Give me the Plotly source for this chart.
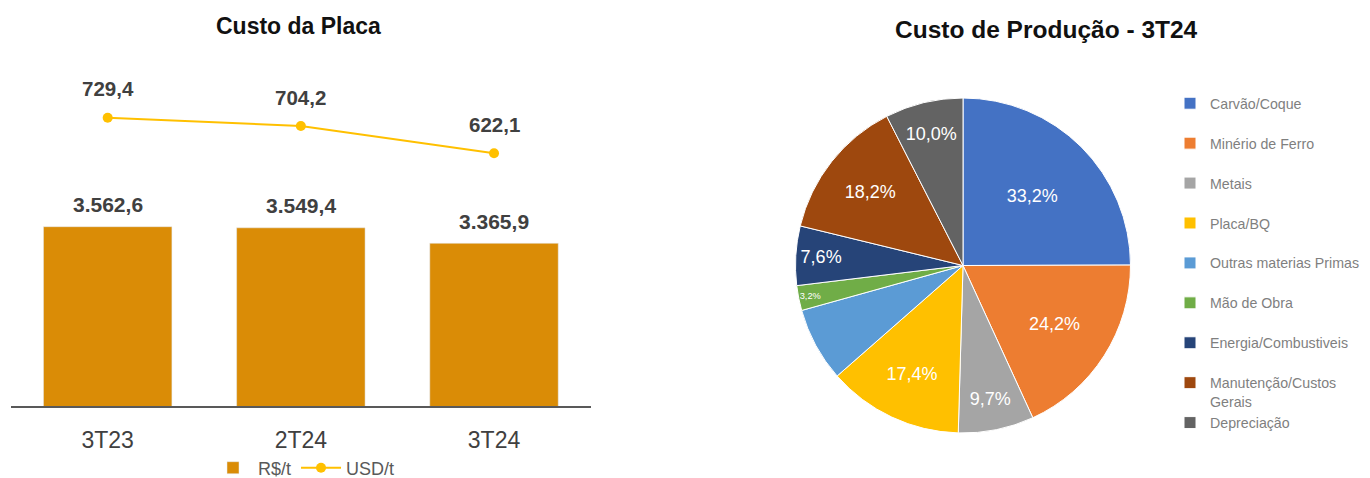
import plotly.graph_objects as go

# ---------------- data ----------------
periods = ["3T23", "2T24", "3T24"]
cost_brl = [3562.6, 3549.4, 3365.9]   # R$/t (bars)
cost_usd = [729.4, 704.2, 622.1]      # USD/t (line)

pie_categories = [
    "Carvão/Coque",
    "Minério de Ferro",
    "Metais",
    "Placa/BQ",
    "Outras materias Primas",
    "Mão de Obra",
    "Energia/Combustiveis",
    "Manutenção/Custos<br>Gerais",
    "Depreciação",
]
pie_values = [33.2, 24.2, 9.7, 17.4, 9.5, 3.2, 7.6, 18.2, 10.0]
pie_label_visible = [True, True, True, True, False, True, True, True, True]

# ---------------- styles / geometry ----------------
FONT = "Liberation Sans, Arial, sans-serif"
BAR_COLOR = "#DA8C06"
LINE_COLOR = "#FFC000"
LABEL_COLOR = "#404040"
pie_colors = ["#4472C4", "#ED7D31", "#A5A5A5", "#FFC000", "#5B9BD5",
              "#70AD47", "#264478", "#9E480E", "#636363"]

OFF = 8            # default page body margin
W, H = 1370 - OFF, 478 - OFF


def px_x(px):
    return (px - OFF) / W


def px_y(py):
    return 1 - (py - OFF) / H


def fmt_br(v, d=1):
    s = f"{v:,.{d}f}"
    return s.replace(",", "X").replace(".", ",").replace("X", ".")


def legend_label(cat):
    return cat if "<br>" in cat else cat + "<br> "


pie_text = [fmt_br(v) + "%" if show else "" for v, show in zip(pie_values, pie_label_visible)]

fig = go.Figure()

fig.add_trace(go.Bar(
    x=periods, y=cost_brl, name="R$/t", marker_color=BAR_COLOR,
    width=0.665, xaxis="x", yaxis="y", legend="legend",
    hovertemplate="%{x}: %{y}<extra>R$/t</extra>",
))
fig.add_trace(go.Scatter(
    x=periods, y=cost_usd, name="USD/t", mode="lines+markers",
    line=dict(color=LINE_COLOR, width=2),
    marker=dict(size=10, color=LINE_COLOR),
    xaxis="x", yaxis="y2", legend="legend",
))
fig.add_trace(go.Pie(
    labels=[legend_label(c) for c in pie_categories],
    values=pie_values,
    text=pie_text,
    textinfo="text",
    sort=False,
    direction="clockwise",
    rotation=0,
    marker=dict(colors=pie_colors, line=dict(color="white", width=1)),
    textposition="inside",
    insidetextorientation="horizontal",
    textfont=dict(size=18, color="white", family=FONT),
    domain=dict(x=[px_x(795.5), px_x(1130.5)], y=[px_y(433), px_y(98)]),
    legend="legend2",
    hoverinfo="percent",
))

annotations = []
for p, v in zip(periods, cost_brl):
    annotations.append(dict(
        x=p, y=v, xref="x", yref="y", text=fmt_br(v), showarrow=False,
        yshift=22, xanchor="center", yanchor="middle",
        font=dict(size=21, color=LABEL_COLOR, family=FONT, weight="bold"),
    ))
for p, v in zip(periods, cost_usd):
    annotations.append(dict(
        x=p, y=v, xref="x", yref="y2", text=fmt_br(v), showarrow=False,
        yshift=29, xanchor="center", yanchor="middle",
        font=dict(size=20.5, color=LABEL_COLOR, family=FONT, weight="bold"),
    ))
annotations.append(dict(
    x=px_x(298.5), y=px_y(26), xref="paper", yref="paper",
    text="<b>Custo da Placa</b>", showarrow=False,
    xanchor="center", yanchor="middle",
    font=dict(size=23, color="#111111", family=FONT),
))
annotations.append(dict(
    x=px_x(1046), y=px_y(30), xref="paper", yref="paper",
    text="<b>Custo de Produção - 3T24</b>", showarrow=False,
    xanchor="center", yanchor="middle",
    font=dict(size=24.5, color="#111111", family=FONT),
))

fig.update_layout(
    width=W, height=H,
    margin=dict(l=0, r=0, t=0, b=0, autoexpand=False),
    paper_bgcolor="white", plot_bgcolor="white",
    font=dict(family=FONT, color=LABEL_COLOR),
    xaxis=dict(
        domain=[px_x(11.1), px_x(590.6)], range=[-0.5, 2.5],
        showline=True, linecolor="#595959", linewidth=1.5,
        ticks="", showgrid=False, zeroline=False, automargin=False,
        ticklabelstandoff=13,
        tickfont=dict(size=23, color=LABEL_COLOR, family=FONT),
    ),
    yaxis=dict(
        domain=[px_y(406), px_y(60)], range=[1438, 5537.6], visible=False,
        automargin=False,
    ),
    yaxis2=dict(
        overlaying="y", side="right", range=[-139.5, 903.3], visible=False,
        automargin=False,
    ),
    legend=dict(
        orientation="h", x=px_x(304), xanchor="center",
        y=px_y(468), yanchor="middle", itemwidth=40,
        font=dict(size=18, color="#595959", family=FONT),
        bgcolor="rgba(0,0,0,0)",
    ),
    legend2=dict(
        orientation="v", x=px_x(1170), xanchor="left",
        y=px_y(87.5), yanchor="top", valign="top",
        font=dict(size=14.2, color="#7F7F7F", family=FONT),
        bgcolor="rgba(0,0,0,0)",
    ),
    annotations=annotations,
)

fig.write_html("out.html")
